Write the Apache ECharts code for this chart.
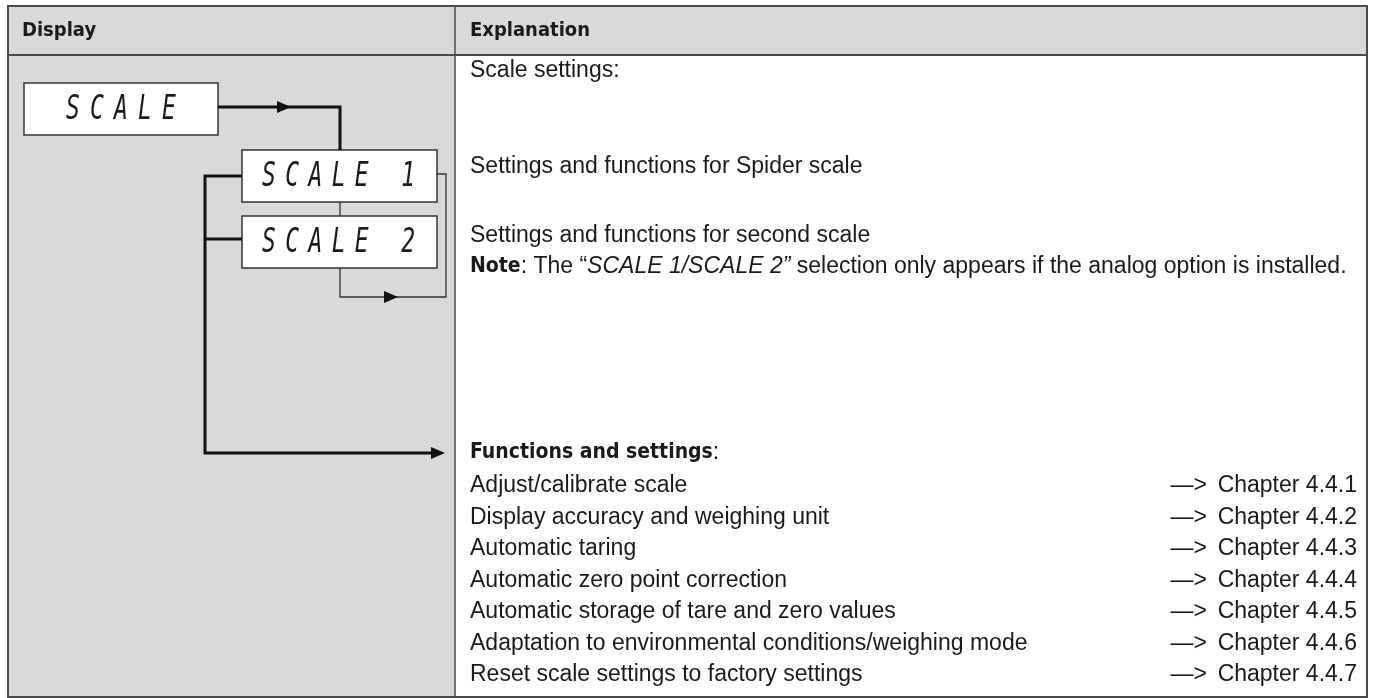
<!DOCTYPE html>
<html>
<head>
<meta charset="utf-8">
<script src="https://cdn.jsdelivr.net/npm/echarts@6/dist/echarts.min.js"></script>
<style>html,body{margin:0;padding:0;background:#fff}#c{width:1374px;height:698px}</style>
</head>
<body>
<div id="c"></div>
<script>
// ---- content ----
const headers = ['Display', 'Explanation'];
const displayLabels = ['SCALE', 'SCALE 1', 'SCALE 2'];
const introLines = ['Scale settings:', 'Settings and functions for Spider scale', 'Settings and functions for second scale'];
const noteParts = ['Note', ': The \u201C', 'SCALE 1/SCALE 2\u201D', ' selection only appears if the analog option is installed.'];
const functionsHeading = 'Functions and settings';
const functionItems = [
  'Adjust/calibrate scale',
  'Display accuracy and weighing unit',
  'Automatic taring',
  'Automatic zero point correction',
  'Automatic storage of tare and zero values',
  'Adaptation to environmental conditions/weighing mode',
  'Reset scale settings to factory settings'
];
const chapterRefs = ['4.4.1', '4.4.2', '4.4.3', '4.4.4', '4.4.5', '4.4.6', '4.4.7'];

// ---- layout ----
const chart = echarts.init(document.getElementById('c'), null, {renderer: 'canvas'});
const L = 8, T = 6, R = 1367, B = 697, HB = 55, DIV = 455;
const TXT = '#1a1a1a', LINE = '#4a4a4a';
const REG = '"Liberation Sans", Arial, sans-serif';
const BOLD = '"Liberation Sans Narrow", "DejaVu Sans Condensed", "Liberation Sans", sans-serif';
const els = [];

// backgrounds
els.push({type: 'rect', shape: {x: L, y: T, width: R - L, height: HB - T}, style: {fill: '#d9d9d9'}});
els.push({type: 'rect', shape: {x: L, y: HB, width: DIV - L, height: B - HB}, style: {fill: '#d9d9d9'}});
els.push({type: 'rect', shape: {x: DIV, y: HB, width: R - DIV, height: B - HB}, style: {fill: '#ffffff'}});
// borders
els.push({type: 'rect', shape: {x: L, y: T, width: R - L, height: B - T}, style: {fill: null, stroke: LINE, lineWidth: 2}});
els.push({type: 'line', shape: {x1: L, y1: HB, x2: R, y2: HB}, style: {stroke: LINE, lineWidth: 2}});
els.push({type: 'line', shape: {x1: DIV, y1: T, x2: DIV, y2: B}, style: {stroke: LINE, lineWidth: 1.5}});

// headers
[L + 14, DIV + 15].forEach((x, i) => {
  els.push({type: 'text', x: x, y: 31, style: {text: headers[i], font: 'bold 20px ' + BOLD, fill: TXT, textVerticalAlign: 'middle'}});
});

// display boxes
const boxes = [
  {x: 24, y: 83, w: 194, h: 52, cx0: 73, pitch: 24},
  {x: 242, y: 150, w: 195, h: 52, cx0: 269, pitch: 23.2},
  {x: 242, y: 216, w: 195, h: 52, cx0: 269, pitch: 23.2}
];
boxes.forEach((b, i) => {
  els.push({type: 'rect', shape: {x: b.x, y: b.y, width: b.w, height: b.h}, style: {fill: '#fff', stroke: '#333', lineWidth: 1.5}});
  const chars = displayLabels[i].split('');
  chars.forEach((ch, k) => {
    if (ch === ' ') return;
    els.push({type: 'text', x: b.cx0 + k * b.pitch, y: b.y + b.h / 2 + 1, scaleX: 0.72, scaleY: 1.05,
      style: {text: ch, font: 'italic 32px "DejaVu Sans Mono", monospace', fill: TXT, textAlign: 'center', textVerticalAlign: 'middle'}});
  });
});

function arrowR(x, y, len, half) {
  return {type: 'polygon', shape: {points: [[x, y - half], [x + len, y], [x, y + half]]}, style: {fill: '#111'}};
}
const thick = {stroke: '#111', lineWidth: 3, fill: null};
const thin = {stroke: '#333', lineWidth: 1.3, fill: null};
// SCALE -> SCALE 1
els.push({type: 'polyline', shape: {points: [[218, 107], [340, 107], [340, 150]]}, style: thick});
els.push(arrowR(277, 107, 14, 6));
// connector between SCALE 1 and SCALE 2
els.push({type: 'line', shape: {x1: 340, y1: 202, x2: 340, y2: 216}, style: thin});
// loop back
els.push({type: 'polyline', shape: {points: [[437, 174], [446, 174], [446, 297], [340, 297], [340, 268]]}, style: thin});
els.push(arrowR(384, 297, 14, 6));
// left bus
els.push({type: 'polyline', shape: {points: [[242, 176], [205, 176], [205, 453], [432, 453]]}, style: thick});
els.push({type: 'line', shape: {x1: 205, y1: 239, x2: 242, y2: 239}, style: thick});
els.push(arrowR(431, 453, 14, 6));

// explanation column
const TX = DIV + 15;
const FS = 23;
const bodyFont = FS + 'px ' + REG;
[71, 167, 236].forEach((y, i) => {
  els.push({type: 'text', x: TX, y: y, style: {text: introLines[i], font: bodyFont, fill: TXT, textVerticalAlign: 'middle'}});
});
els.push({type: 'text', x: TX, y: 267, style: {
  text: '{b|' + noteParts[0] + '}{n|' + noteParts[1] + '}{i|' + noteParts[2] + '}{n|' + noteParts[3] + '}',
  textVerticalAlign: 'middle', fill: TXT,
  rich: {
    b: {font: 'bold 21px ' + BOLD, fill: TXT},
    n: {font: bodyFont, fill: TXT},
    i: {font: 'italic ' + FS + 'px ' + REG, fill: TXT}
  }
}});
els.push({type: 'text', x: TX, y: 453, style: {
  text: '{b|' + functionsHeading + '}{n|:}', textVerticalAlign: 'middle', fill: TXT,
  rich: {b: {font: 'bold 21px ' + BOLD, fill: TXT}, n: {font: bodyFont, fill: TXT}}
}});
functionItems.forEach((t, i) => {
  const y = 486 + i * 31.5;
  els.push({type: 'text', x: 1207, y: y, style: {text: '\u2014>', font: bodyFont, fill: TXT, textAlign: 'right', textVerticalAlign: 'middle'}});
  els.push({type: 'text', x: TX, y: y, style: {text: t, font: bodyFont, fill: TXT, textVerticalAlign: 'middle'}});
  els.push({type: 'text', x: 1357, y: y, style: {text: 'Chapter ' + chapterRefs[i], font: bodyFont, fill: TXT, textAlign: 'right', textVerticalAlign: 'middle'}});
});

chart.setOption({animation: false, graphic: {elements: els}});
</script>
</body>
</html>
